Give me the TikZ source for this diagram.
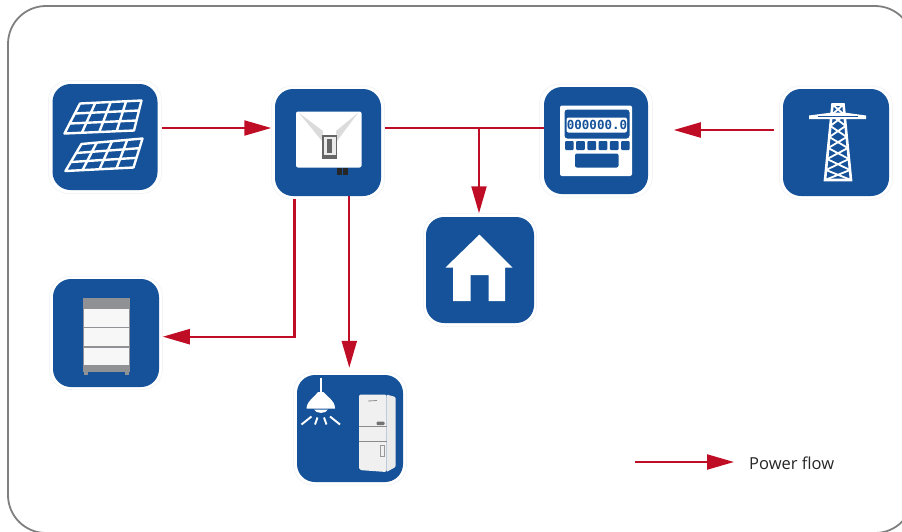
\documentclass[tikz,border=0pt]{standalone}
\usepackage{fontspec}
\setsansfont{Open Sans}
\newfontfamily\meterfont{DejaVu Sans Mono}
\usetikzlibrary{arrows.meta,calc}

\definecolor{iconblue}{HTML}{15529A}
\definecolor{flowred}{HTML}{C00D26}
\definecolor{framegray}{HTML}{7F7F7F}
\definecolor{halogray}{HTML}{EEF0F2}
\definecolor{rackgray}{HTML}{8F9194}

\tikzset{
  halobox/.style={rectangle,rounded corners=20pt,draw=halogray,fill=white,line width=.5pt,minimum size=113pt,inner sep=0pt},
  iconbox/.style={rectangle,rounded corners=18pt,fill=iconblue,inner sep=0pt},
  flow/.style={draw=flowred,line width=2.2pt,-{Triangle[length=27pt,width=15pt]}},
  flowline/.style={draw=flowred,line width=2.2pt},
  rib/.style={white,line width=2.4pt,line join=round},
  ray/.style={white,line width=1.9pt}
}

% one solar panel: corners tl, tr, br, bl
\newcommand{\solarpanel}[4]{
  \draw[rib] (#1) -- (#2) -- (#3) -- (#4) -- cycle;
  \foreach \t in {.25,.5,.75} \draw[rib] ($(#1)!\t!(#2)$) -- ($(#4)!\t!(#3)$);
  \foreach \t in {.333,.667} \draw[rib] ($(#1)!\t!(#4)$) -- ($(#2)!\t!(#3)$);
}

\begin{document}
\begin{tikzpicture}[x=1pt,y=-1pt]
\useasboundingbox (0,0) rectangle (902,531);
\draw[framegray,line width=1.8pt,rounded corners=38pt] (8,6) -- (8,533) -- (913,533) -- (913,6) -- cycle;

% halos
\node[halobox] (solar) at (105,137) {};
\node[halobox] (inverter) at (328,142.5) {};
\node[halobox] (meter) at (596,140.5) {};
\node[halobox] (tower) at (836,142.5) {};
\node[halobox] (house) at (480,270) {};
\node[halobox] (battery) at (106,333) {};
\node[halobox] (load) at (350,428.5) {};

% connectors
\draw[flow] ([yshift=9pt]solar.east) -- ([yshift=14.5pt]inverter.west);
\draw[flowline] ([yshift=14.5pt]inverter.east) -- ([yshift=12.5pt,xshift=5pt]meter.west);
\coordinate (tee) at ($([yshift=14.5pt]inverter.east)!.5!([yshift=12.5pt]meter.west)$);
\draw[flow] (tee -| house.north) ++(-1,0) -- ([xshift=-1pt]house.north);
\draw[flow,shorten <=5pt,shorten >=21pt] ([yshift=12.5pt]tower.west) -- ([yshift=10.5pt]meter.east);
\draw[flow] ([xshift=-33.5pt]inverter.south) |- ([yshift=-3.7pt]battery.east);
\draw[flow,shorten <=-3pt,shorten >=4pt] ([xshift=21.3pt]inverter.south) -- ([xshift=-.7pt]load.north);

% blue squares
\foreach \n/\w/\h in {solar/105/106,inverter/106/107,meter/104/107,tower/106/107,house/108/106,battery/106/108,load/106/107}
  \node[iconbox,minimum width=\w pt,minimum height=\h pt] at (\n) {};

% solar panels
\solarpanel{80,103.5}{141.5,100.5}{134,130.5}{64.5,133.5}
\solarpanel{81.5,144}{142.5,138.5}{133.5,167.5}{65.5,171}

% inverter
\fill[white,rounded corners=2pt] (296,111.5) rectangle (361.5,167.5);
\fill[black!14] (299,113) -- (323,131) -- (322,141) -- cycle;
\fill[black!14] (358,113) -- (336,131) -- (337,141) -- cycle;
\fill[black!60] (322,134.5) rectangle (337,158.5);
\fill[white!92!black] (323.5,137) rectangle (335.5,155);
\fill[black!60] (327,139) rectangle (331.5,153);
\fill[black!85] (336.5,168) rectangle (341.5,175);
\fill[black!85] (343,168) rectangle (348,175);

% meter
\fill[white,rounded corners=2pt] (560,105.5) rectangle (632,176);
\fill[iconblue,rounded corners=3pt] (564.5,109.5) rectangle (629.5,138.5);
\fill[white,rounded corners=2pt] (566.5,117.5) rectangle (627,132.5);
\node[text=iconblue,font=\meterfont\bfseries\fontsize{12.5}{12.5}\selectfont,inner sep=0pt] (digits) at (597,125) {000000.0};
\foreach \i in {0,...,5}
  \fill[iconblue,rounded corners=1pt] (565+11.2*\i,141) rectangle ++(8.7,9);
\fill[iconblue,rounded corners=2pt] (575,153.5) rectangle (618.5,167.5);

% tower
\draw[white,line width=2.6pt] (832.5,104.5) -- (825,180) -- (851,180) -- (843.5,104.5) -- cycle;
\foreach \a/\b in {104.5/115,115/126,126/137,137/148,148/159,159/170,170/180}{
  \pgfmathsetmacro{\la}{832.5-7.5*(\a-104.5)/75.5}
  \pgfmathsetmacro{\ra}{843.5+7.5*(\a-104.5)/75.5}
  \pgfmathsetmacro{\lb}{832.5-7.5*(\b-104.5)/75.5}
  \pgfmathsetmacro{\rb}{843.5+7.5*(\b-104.5)/75.5}
  \draw[white,line width=1.8pt] (\la,\a) -- (\rb,\b) (\ra,\a) -- (\lb,\b);
}
\fill[white] (809,115.5) -- (832,112.5) -- (844,112.5) -- (866,115.5) -- (866,119) -- (809,119) -- cycle;
\fill[iconblue] (818,116.2) rectangle (858,117.2);

% house
\fill[white] (479.5,234.5) -- (512.5,267.5) -- (505,267.5) -- (505,301) -- (488.5,301) -- (488.5,275) -- (470.5,275) -- (470.5,301) -- (453,301) -- (453,267.5) -- (445.5,267.5) -- cycle;

% battery
\fill[rackgray] (82.5,297.5) rectangle (129.5,372);
\fill[white!97!black] (84,308.5) rectangle (128.5,326.5);
\fill[white!97!black] (84,328) rectangle (128.5,346);
\fill[white!97!black] (84,347.5) rectangle (128.5,365);
\fill[rackgray] (83.5,372) rectangle (87.5,375);
\fill[rackgray] (124.5,372) rectangle (128.5,375);

% lamp
\fill[white] (320,378) rectangle (322,393);
\fill[white] (306.5,408.5) .. controls (307,400) and (315,397) .. (318,392) -- (323.5,392) .. controls (327,397) and (335,400) .. (335,408.5) -- cycle;
\fill[white] (314,409.5) .. controls (316,414) and (326,414) .. (328,409.5) -- cycle;
\draw[ray] (301.5,424.5) -- (311.5,416.5);
\draw[ray] (315,424.5) -- (317.5,417.5);
\draw[ray] (326.5,424.5) -- (324,417.5);
\draw[ray] (340,424.5) -- (330,416.5);

% fridge
\fill[black!8,rounded corners=1pt] (386.5,394.5) -- (395.5,397) -- (395.5,467) -- (386.5,472) -- cycle;
\fill[black!6,rounded corners=2pt] (359,394.5) -- (386.5,394.5) -- (386.5,472) -- (359,470) -- cycle;
\draw[black!45,line width=.8pt] (359,426.5) -- (386.5,426.5) (359,441) -- (386.5,441);
\draw[black!45,line width=.8pt] (368,401) -- (377,400.5);
\fill[black!55,rounded corners=1pt] (376.5,421.5) rectangle (384.5,425);
\draw[black!40,line width=.8pt] (380.8,445.8) rectangle (384.8,456.5);

% legend
\coordinate (legendstart) at (635,462);
\node[anchor=west,inner sep=0pt,font=\sffamily\fontsize{16.5}{18}\selectfont,text=black!85] (legend) at (749,463.5) {Power flow};
\draw[flow,shorten >=15pt] (legendstart) -- (legend.west |- legendstart);
\end{tikzpicture}
\end{document}
